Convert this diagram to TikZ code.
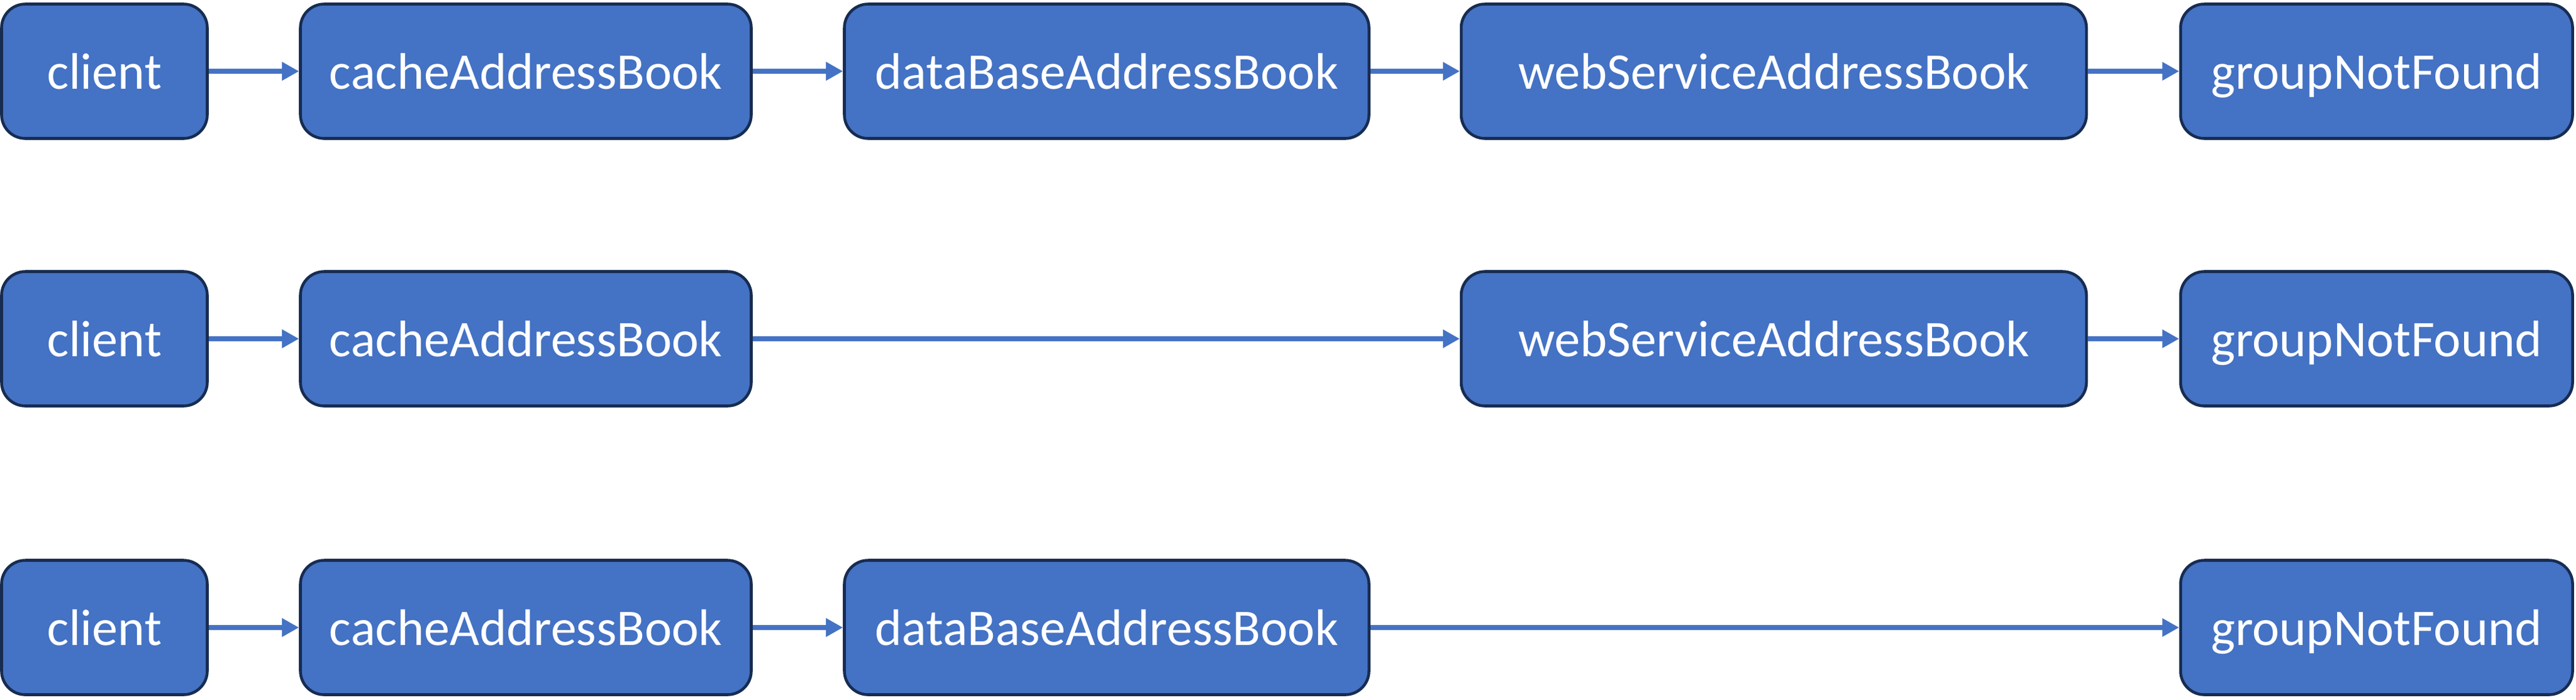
\documentclass[tikz,border=0pt]{standalone}
\usepackage{fontspec}
\setmainfont{Carlito}
\usetikzlibrary{arrows.meta}

\definecolor{boxfill}{HTML}{4472C4}
\definecolor{boxline}{HTML}{172C51}

\tikzset{
  book/.style={draw=boxline, fill=boxfill, line width=1.3pt, rounded corners=0.38cm,
    text=white, font=\fontsize{23.4}{28}\selectfont, text depth=0pt,
    minimum height=2.15cm, inner sep=0pt},
  link/.style={draw=boxfill, line width=2.5pt, -{Triangle[length=2.7mm,width=2.8mm]}}
}

\begin{document}
\begin{tikzpicture}
  \useasboundingbox (0cm,0cm) rectangle (41.2cm,-11.19cm);
  % first row
  \node[book, minimum width=3.29cm] (client1) at (1.67cm,-1.14cm) {client};
  \node[book, minimum width=7.21cm] (cache1) at (8.41cm,-1.14cm) {cacheAddressBook};
  \node[book, minimum width=8.39cm] (db1) at (17.70cm,-1.14cm) {dataBaseAddressBook};
  \node[book, minimum width=10.0cm] (web1) at (28.37cm,-1.14cm) {webServiceAddressBook};
  \node[book, minimum width=6.27cm] (group1) at (38.01cm,-1.14cm) {groupNotFound};
  \draw[link] (client1) -- (cache1);
  \draw[link] (cache1) -- (db1);
  \draw[link] (db1) -- (web1);
  \draw[link] (web1) -- (group1);
  % second row
  \node[book, minimum width=3.29cm] (client2) at (1.67cm,-5.42cm) {client};
  \node[book, minimum width=7.21cm] (cache2) at (8.41cm,-5.42cm) {cacheAddressBook};
  \node[book, minimum width=10.0cm] (web2) at (28.37cm,-5.42cm) {webServiceAddressBook};
  \node[book, minimum width=6.27cm] (group2) at (38.01cm,-5.42cm) {groupNotFound};
  \draw[link] (client2) -- (cache2);
  \draw[link] (cache2) -- (web2);
  \draw[link] (web2) -- (group2);
  % third row
  \node[book, minimum width=3.29cm] (client3) at (1.67cm,-10.04cm) {client};
  \node[book, minimum width=7.21cm] (cache3) at (8.41cm,-10.04cm) {cacheAddressBook};
  \node[book, minimum width=8.39cm] (db3) at (17.70cm,-10.04cm) {dataBaseAddressBook};
  \node[book, minimum width=6.27cm] (group3) at (38.01cm,-10.04cm) {groupNotFound};
  \draw[link] (client3) -- (cache3);
  \draw[link] (cache3) -- (db3);
  \draw[link] (db3) -- (group3);
\end{tikzpicture}
\end{document}
